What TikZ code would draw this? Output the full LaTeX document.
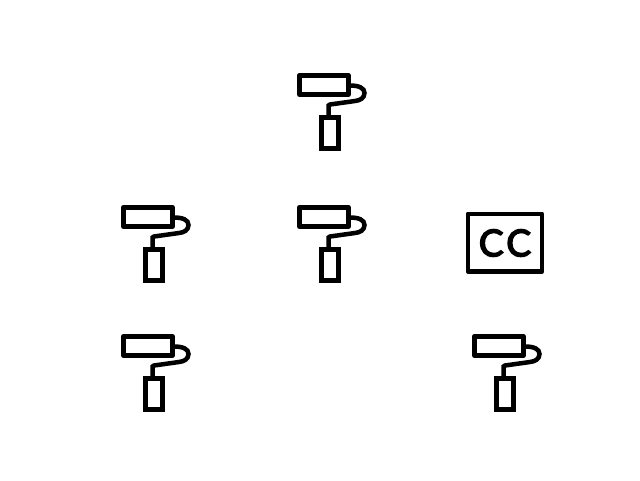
\documentclass[tikz,border=0pt]{standalone}
\usepackage{fontspec}
\newfontfamily\ccfont[FakeBold=4,LetterSpace=9]{Lato}
\tikzset{
  x=1pt,y=-1pt,
  iconline/.style={draw=black,line width=5pt,fill=none},
  roller/.pic={
    \draw[iconline,line join=round] (-30.5,-19.8) rectangle (18.2,-0.5);
    \draw[iconline,line join=miter] (-8.4,22.7) rectangle (8.6,53.2);
    \draw[iconline,line width=4.5pt,line join=miter] (20,-9.5) .. controls (29,-9.5) and (34.5,-7) .. (34.5,-2)
       .. controls (34.5,3) and (30,5.5) .. (25,6) -- (0,9.5) -- (-1.5,10.5) -- (-1.5,21);
  },
  ccframe/.style={draw=black,line width=4.8pt,line join=round,fill=none},
  cclabel/.style={font=\ccfont\fontsize{37}{37}\selectfont,text=black,inner sep=0pt},
}
\begin{document}
\begin{tikzpicture}
\useasboundingbox (0,0) rectangle (640,480);
\fill[white] (0,0) rectangle (640,480);
\pic (top) at (330,95) {roller};
\pic (midcentre) at (330,227) {roller};
\pic (midleft) at (154,227) {roller};
\pic (botleft) at (154,356) {roller};
\pic (botright) at (505,356) {roller};
\node[ccframe,minimum width=74pt,minimum height=57.5pt,inner sep=0pt] (ccbox) at (505,242.7) {};
\node[cclabel] (cctext) at (505,243) {CC};
\end{tikzpicture}
\end{document}
